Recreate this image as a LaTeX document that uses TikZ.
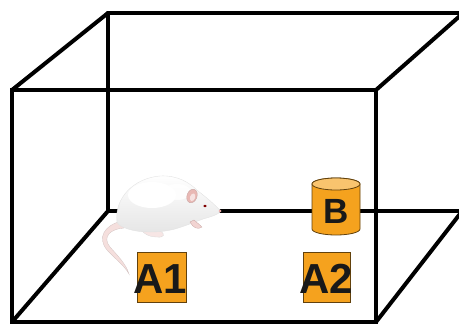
\documentclass[tikz,border=0pt]{standalone}
\usepackage{fontspec}
\setmainfont{Liberation Sans}
\begin{document}
\begin{tikzpicture}[x=1pt,y=-1pt,
  edge/.style={line width=4pt,black,line cap=round},
  padbox/.style={fill=padorange,draw=black!60!padorange,line width=0.8pt},
  label/.style={font=\bfseries\fontsize{42}{42}\selectfont,inner sep=0pt,text=black!90}]
\definecolor{padorange}{HTML}{F5A21E}
\definecolor{padtop}{HTML}{F9C46E}
\definecolor{ratpink}{HTML}{E9B8B4}
\useasboundingbox (0,0) rectangle (459,325);
\clip (0,0) rectangle (459,325);

% cage corners
\coordinate (f-tl) at (12,90);
\coordinate (f-tr) at (376,90);
\coordinate (f-bl) at (12,322);
\coordinate (f-br) at (376,322);
\coordinate (b-tl) at (108,13);
\coordinate (b-bl) at (108,211);
\coordinate (b-tr) at (475,13);
\coordinate (b-tr2) at (470,7);
\coordinate (b-br) at (475,211);
\coordinate (b-br2) at (470,201);

% back frame
\draw[edge] (b-tl) -- (b-tr);
\draw[edge] (b-tl) -- (b-bl) -- (b-br);
% depth edges
\draw[edge] (f-tl) -- (b-tl);
\draw[edge] (f-bl) -- (b-bl);
\draw[edge] (f-tr) -- (b-tr2);
\draw[edge] (f-br) -- (b-br2);

% cylinder B (y axis points down, so the bottom rim runs 180 -> 0)
\fill[padorange,draw=black!60!padorange,line width=0.8pt]
  (312,184) -- (312,229) arc[start angle=180,end angle=0,x radius=24,y radius=6]
  -- (360,184) arc[start angle=0,end angle=-180,x radius=24,y radius=6] -- cycle;
\draw[fill=padtop,draw=black!60!padorange,line width=0.8pt] (336,184) ellipse[x radius=24,y radius=6];
\node[label,font=\bfseries\fontsize{35}{35}\selectfont] (B) at (336,211) {B};

% front frame
\draw[edge] (f-tl) -- (f-tr) -- (f-br) -- (f-bl) -- cycle;

% pads
\node[padbox,minimum width=49pt,minimum height=50pt,inner sep=0pt] (padA1) at (161.5,277) {};
\node[padbox,minimum width=47pt,minimum height=50pt,inner sep=0pt] (padA2) at (326.5,277) {};
\node[label] (A1) at (160,279) {A1};
\node[label] (A2) at (326,279) {A2};

% the rat
\begin{scope}
  % tail
  \fill[ratpink!45!white,draw=ratpink!50!gray!60,line width=0.3pt]
    (122,221) .. controls (104,225) and (97,238) .. (107,250)
    .. controls (115,259) and (124,265) .. (129,274)
    .. controls (126,264) and (118,256) .. (110,247)
    .. controls (102,237) and (110,229) .. (124,228) -- cycle;
  % hind leg
  \fill[ratpink!35!white,draw=gray!30,line width=0.3pt]
    (138,222) .. controls (140,232) and (147,237) .. (157,237)
    .. controls (164,238) and (166,234) .. (160,231)
    .. controls (152,229) and (150,222) .. (146,217) -- cycle;
  % body
  \shade[top color=white,bottom color=gray!20,draw=gray!22,line width=0.4pt]
    (117,222) .. controls (114,198) and (134,178) .. (160,176)
    .. controls (178,175) and (190,183) .. (198,191)
    .. controls (206,197) and (214,204) .. (221,211)
    .. controls (218,215) and (210,217) .. (203,219)
    .. controls (195,222) and (185,226) .. (175,229)
    .. controls (160,233) and (140,233) .. (128,229)
    .. controls (122,227) and (118,225) .. (117,222) -- cycle;
  % fur highlights
  \fill[white] (152,195) ellipse[x radius=24,y radius=13];
  \fill[white,opacity=0.8] (177,192) ellipse[x radius=14,y radius=8];
  % front paw
  \fill[ratpink!60!white,draw=ratpink!70!gray,line width=0.3pt]
    (190,222) .. controls (193,228) and (198,230) .. (202,227)
    .. controls (199,224) and (196,222) .. (194,220) -- cycle;
  % ear
  \fill[ratpink,draw=ratpink!70!gray,line width=0.4pt,rotate around={-20:(192,196)}]
    (192,196) ellipse[x radius=5,y radius=7];
  \fill[white,opacity=0.6,rotate around={-20:(192,196)}] (193,197) ellipse[x radius=2.5,y radius=4];
  % eye and nose
  \fill[red!50!black] (205,206) ellipse[x radius=1.8,y radius=1.3];
  \fill[ratpink!90!red] (220,211) circle[radius=1.4];
\end{scope}
\end{tikzpicture}
\end{document}
